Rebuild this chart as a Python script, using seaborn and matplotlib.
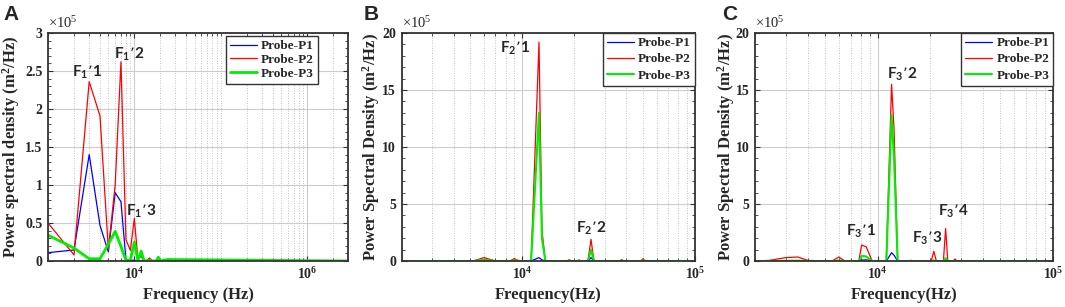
import numpy as np
import matplotlib
matplotlib.use("Agg")
from matplotlib import pyplot as plt
from matplotlib.ticker import FixedLocator, LogLocator, NullFormatter, MultipleLocator, FuncFormatter
import seaborn as sns

probes = ["Probe-P1", "Probe-P2", "Probe-P3"]
colors = ["#0000ff", "#ff0000", "#00ee00"]

# PSD values below are in units of 1e5 m^2/Hz (axis shows x10^5)
# panel A
freq_a = [1000, 2000, 3000, 4000, 5000, 6000, 7000, 8000, 9000, 10000,
          11000, 12000, 13000, 14000, 15000, 16000, 17000, 18000, 19000, 20000,
          24000, 3000000]
psd_a_p1 = [0.11, 0.145, 1.40, 0.47, 0.12, 0.90, 0.78, 0.02, 0.01, 0.01,
            0.0, 0.0, 0.0, 0.0, 0.0, 0.0, 0.0, 0.0, 0.0, 0.0,
            0.0, 0.0]
psd_a_p2 = [0.50, 0.08, 2.36, 1.91, 0.15, 1.00, 2.62, 0.28, 0.14, 0.56,
            0.03, 0.06, 0.0, 0.01, 0.04, 0.01, 0.0, 0.0, 0.01, 0.0,
            0.0, 0.0]
psd_a_p3 = [0.34, 0.17, 0.03, 0.03, 0.22, 0.39, 0.19, 0.01, 0.01, 0.25,
            0.01, 0.13, 0.0, 0.0, 0.01, 0.0, 0.0, 0.0, 0.05, 0.0,
            0.02, 0.0]

# panel B
freq_b = [2000, 5200, 6000, 7000, 8500, 9000, 9600, 11250, 12500, 13000,
          13600, 18200, 18700, 19200, 20800, 21300, 21800, 24000, 25000, 26000,
          36500, 37600, 38700, 48500, 50000, 51500, 100000]
psd_b_p1 = [0, 0, 0.02, 0, 0, 0.06, 0, 0, 0.30, 0.10,
            0, 0, 0, 0, 0, 0, 0, 0, 0.30, 0,
            0, 0, 0, 0, 0, 0, 0]
psd_b_p2 = [0, 0, 0.30, 0, 0, 0.22, 0, 0, 19.2, 2.7,
            0, 0, 0.12, 0, 0, 0.10, 0, 0, 1.9, 0,
            0, 0.12, 0, 0, 0.20, 0, 0]
psd_b_p3 = [0, 0, 0.10, 0, 0, 0.06, 0, 0, 13.0, 2.0,
            0, 0, 0.03, 0, 0, 0.03, 0, 0, 1.0, 0,
            0, 0.02, 0, 0, 0.05, 0, 0]

# panel C
freq_c = [2000, 2400, 3000, 3500, 4000, 5500, 6000, 6500, 7800, 8100,
          8600, 9300, 11200, 12000, 12400, 13000, 15000, 15500, 16000, 20200,
          20900, 21600, 23700, 24400, 25100, 27000, 27600, 28200, 100000]
psd_c_p1 = [0, 0, 0, 0, 0, 0, 0, 0, 0, 0.08,
            0.10, 0, 0, 0.73, 0.50, 0, 0, 0, 0, 0,
            0, 0, 0, 0.05, 0, 0, 0, 0, 0]
psd_c_p2 = [0, 0.05, 0.30, 0.35, 0.05, 0, 0.35, 0, 0, 1.40,
            1.25, 0, 0, 15.5, 11.5, 0, 0, 0.06, 0, 0,
            0.85, 0, 0, 2.85, 0, 0, 0.18, 0, 0]
psd_c_p3 = [0, 0, 0.02, 0.03, 0, 0, 0.05, 0, 0, 0.45,
            0.40, 0, 0, 12.8, 9.0, 0, 0, 0, 0, 0,
            0.05, 0, 0, 0.25, 0, 0, 0, 0, 0]

sns.set_style("ticks")
plt.rcParams["font.family"] = ["Liberation Serif", "DejaVu Serif"]
plt.rcParams["font.weight"] = "bold"
plt.rcParams["axes.labelweight"] = "bold"
plt.rcParams["mathtext.default"] = "regular"

fig = plt.figure(figsize=(10.65, 3.07), dpi=100)
ax_a = fig.add_axes([0.0451, 0.1498, 0.2817, 0.7427])
ax_b = fig.add_axes([0.3770, 0.1498, 0.2756, 0.7427])
ax_c = fig.add_axes([0.7090, 0.1498, 0.2798, 0.7427])


def draw_panel(ax, freq, series, widths):
    for name, vals, c, lw in zip(probes, series, colors, widths):
        sns.lineplot(x=freq, y=vals, color=c, linewidth=lw, label=name, ax=ax)


def style_axes(ax, xlim, ylim, xmajor, ymajor, yminor):
    ax.set_xscale("log")
    ax.set_xlim(xlim)
    ax.set_ylim(ylim)
    ax.xaxis.set_major_locator(FixedLocator(xmajor))
    ax.xaxis.set_minor_locator(LogLocator(base=10, subs=np.arange(1, 10), numticks=60))
    ax.xaxis.set_minor_formatter(NullFormatter())
    ax.yaxis.set_major_locator(MultipleLocator(ymajor))
    ax.yaxis.set_minor_locator(MultipleLocator(yminor))
    ax.yaxis.set_major_formatter(FuncFormatter(lambda v, p: f"{v:g}"))
    ax.tick_params(which="both", direction="in", top=True, right=True,
                   labelsize=10, pad=4, color="#333333")
    ax.tick_params(which="major", length=3.5, width=0.8)
    ax.tick_params(which="minor", length=2, width=0.6)
    ax.set_axisbelow(True)
    ax.grid(which="major", color="#cccccc", lw=0.8, ls="-")
    ax.grid(which="minor", axis="x", color="#b0b0b0", lw=0.6, ls=(0, (1, 2)))
    for s in ax.spines.values():
        s.set_linewidth(1.3)
        s.set_color("#333333")
    ax.text(0.0, 1.008, "×10$^5$", transform=ax.transAxes, ha="left", va="bottom",
            fontsize=10.5, fontweight="normal")


def add_legend(ax, anchor, spacing):
    leg = ax.legend(loc="upper right", bbox_to_anchor=anchor, fancybox=False,
                    edgecolor="#333333", framealpha=1,
                    prop={"family": "Liberation Serif", "weight": "bold", "size": 9.5},
                    handlelength=2.1, handletextpad=0.3, labelspacing=spacing,
                    borderpad=0.3, borderaxespad=0)
    leg.get_frame().set_linewidth(1.0)


def add_labels(ax, freq, ref, labels):
    for txt, f, dx, dy in labels:
        v = ref[freq.index(f)]
        ax.annotate(txt, xy=(f, v), xytext=(dx, dy), textcoords="offset points",
                    ha="center", va="center", fontsize=11, fontweight="bold",
                    fontfamily=["Lato", "DejaVu Sans"])


# A
draw_panel(ax_a, freq_a, [psd_a_p1, psd_a_p2, psd_a_p3], [0.9, 0.9, 2.0])
style_axes(ax_a, (1000, 3.0e6), (0, 3), [1e4, 1e6], 0.5, 0.1)
add_legend(ax_a, (0.90, 0.987), 0.12)
add_labels(ax_a, freq_a, psd_a_p2, [("F$_1$’1", 3000, -1.4, 6.9),
                                    ("F$_1$’2", 7000, 6.3, 5.7),
                                    ("F$_1$’3", 10000, 4.8, 5.3)])
ax_a.set_xlabel("Frequency (Hz)", fontsize=12)
ax_a.set_ylabel("Power spectral density (m$^2$/Hz)", fontsize=12)
ax_a.xaxis.set_label_coords(0.5, -0.115)
ax_a.yaxis.set_label_coords(-0.087, 0.5)

# B
draw_panel(ax_b, freq_b, [psd_b_p1, psd_b_p2, psd_b_p3], [0.9, 0.9, 1.5])
style_axes(ax_b, (2000, 1e5), (0, 20), [1e4, 1e5], 5, 1)
add_legend(ax_b, (1.0, 1.0), 0.3)
add_labels(ax_b, freq_b, psd_b_p2, [("F$_2$’1", 12500, -17.5, -4.5),
                                    ("F$_2$’2", 25000, 0, 7.6)])
ax_b.set_xlabel("Frequency(Hz)", fontsize=12)
ax_b.set_ylabel("Power Spectral Density (m$^2$/Hz)", fontsize=12)
ax_b.xaxis.set_label_coords(0.5, -0.115)
ax_b.yaxis.set_label_coords(-0.066, 0.5)

# C
draw_panel(ax_c, freq_c, [psd_c_p1, psd_c_p2, psd_c_p3], [0.9, 0.9, 1.5])
style_axes(ax_c, (2000, 1e5), (0, 20), [1e4, 1e5], 5, 1)
add_legend(ax_c, (1.0, 1.0), 0.3)
add_labels(ax_c, freq_c, psd_c_p2, [("F$_3$’1", 8100, -0.7, 10.0),
                                    ("F$_3$’2", 12000, 7.7, 7.5),
                                    ("F$_3$’3", 20900, -5.0, 9.6),
                                    ("F$_3$’4", 24400, 5.3, 12.7)])
ax_c.set_xlabel("Frequency(Hz)", fontsize=12)
ax_c.set_ylabel("Power Spectral Density (m$^2$/Hz)", fontsize=12)
ax_c.xaxis.set_label_coords(0.5, -0.115)
ax_c.yaxis.set_label_coords(-0.060, 0.5)

for letter, xpos in zip(["A", "B", "C"], [0.003, 0.341, 0.678]):
    fig.text(xpos, 0.985, letter, ha="left", va="top", fontsize=15,
             fontweight="bold", fontfamily=["Liberation Sans", "DejaVu Sans"])

fig.savefig("out.png", dpi=100)
